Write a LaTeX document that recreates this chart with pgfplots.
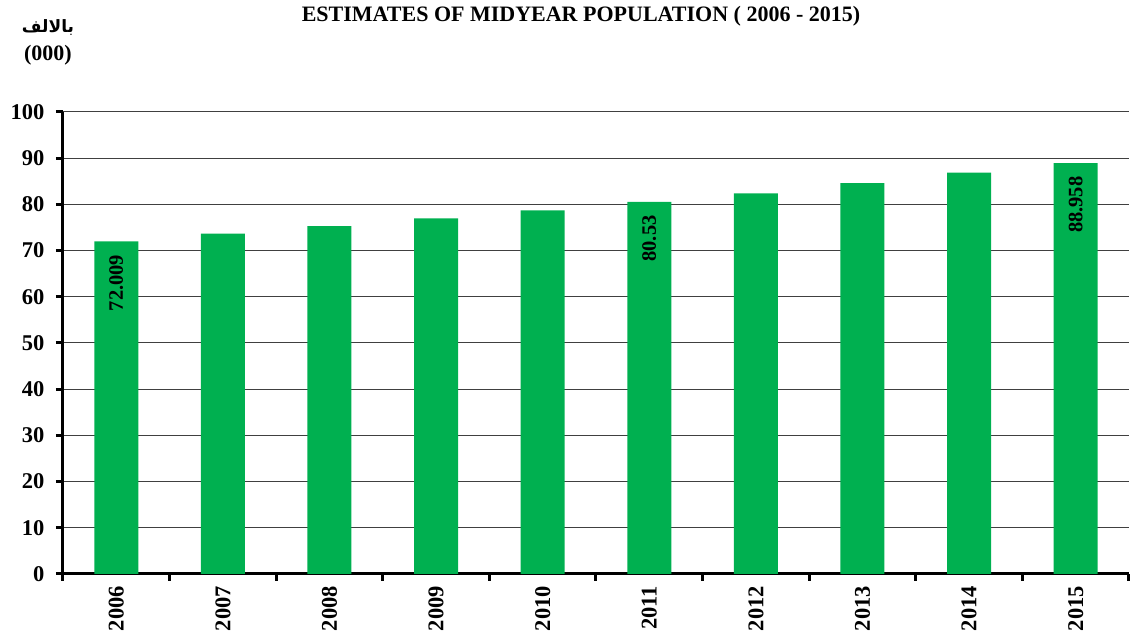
\documentclass[border=0pt]{standalone}
\usepackage{fontspec}
\setmainfont{Liberation Serif}
\newfontfamily\arabicfont[Script=Arabic]{DejaVu Sans}
\TeXXeTstate=1
\usepackage{pgfplots}
\pgfplotsset{compat=1.18}
\definecolor{bargreen}{HTML}{00B050}
\definecolor{gridgray}{HTML}{404040}
\begin{document}
\begin{tikzpicture}
\path[use as bounding box] (-63pt,-60pt) rectangle (1073pt,574pt);
\begin{axis}[
  at={(0,0)}, anchor=south west,
  scale only axis, width=1066pt, height=462pt,
  xmin=-0.5, xmax=9.5, ymin=0, ymax=100,
  axis x line=bottom, axis y line=left,
  axis line style={line width=3pt, -, black},
  ytick={0,10,...,100},
  ymajorgrids, grid style={gridgray, line width=1pt},
  xtick={-0.5,0.5,...,9.5},
  xticklabels={},
  extra x ticks={0,1,...,9},
  extra x tick labels={2006,2007,2008,2009,2010,2011,2012,2013,2014,2015},
  extra x tick style={major tick length=0pt, grid=none},
  x tick label style={rotate=90, anchor=east, inner sep=2pt, xshift=-10pt},
  y tick label style={xshift=-8pt},
  ticklabel style={font=\fontsize{22.5}{26}\selectfont\bfseries},
  /pgf/number format/assume math mode=true,
  tick style={black, line width=3pt},
  major tick length=7pt,
  tick align=outside,
  clip=false,
]
\addplot[ybar, bar shift=0pt, fill=bargreen, draw=none, bar width=44pt]
coordinates {
(0,72.009) (1,73.7) (2,75.3) (3,77.0) (4,78.7)
(5,80.53) (6,82.4) (7,84.6) (8,86.9) (9,88.958)
};
\addplot[ybar, bar shift=0pt, fill=none, draw=none, bar width=44pt,
  nodes near coords,
  every node near coord/.append style={yshift=-10pt, rotate=90, anchor=east, font=\fontsize{20.5}{24}\selectfont\bfseries, black, /pgf/number format/assume math mode=true, /pgf/number format/precision=3}]
coordinates {
(0,72.009) (5,80.53) (9,88.958)
};
\end{axis}
\node[font=\fontsize{22}{26}\selectfont\bfseries] at (518pt,558pt) {ESTIMATES OF MIDYEAR POPULATION ( 2006 - 2015)};
\node[font=\fontsize{17}{20}\selectfont\bfseries] at (-15pt,546pt) {\arabicfont\beginR بالالف\endR};
\node[font=\fontsize{22}{26}\selectfont\bfseries] at (-15pt,519pt) {(000)};
\end{tikzpicture}
\end{document}
